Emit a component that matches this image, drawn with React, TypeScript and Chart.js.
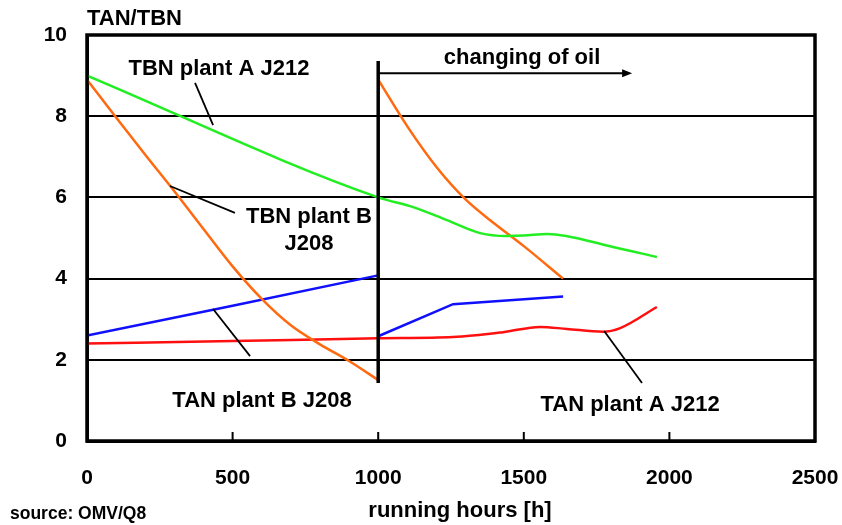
import React, { useEffect, useRef } from "react";
import { Chart, registerables } from "chart.js";
Chart.register(...registerables);

// TBN plant A J212 (green)
const tbnA_h = [0, 1000, 1120, 1236, 1350, 1440, 1500, 1580, 1806, 1957];
const tbnA_v = [9.0, 6.0, 5.76, 5.44, 5.12, 5.05, 5.06, 5.1, 4.78, 4.53];

// TBN plant B J208 (orange), first oil fill and after changing
const tbnB1_h = [0, 100, 200, 300, 400, 500, 600, 700, 800, 900, 1000];
const tbnB1_v = [8.9, 7.97, 7.05, 6.15, 5.22, 4.3, 3.5, 2.85, 2.38, 1.97, 1.5];
const tbnB2_h = [1000, 1100, 1200, 1300, 1400, 1500, 1635];
const tbnB2_v = [8.9, 7.75, 6.75, 5.95, 5.35, 4.8, 4.0];

// TAN plant B J208 (blue)
const tanB1_h = [0, 500, 1000];
const tanB1_v = [2.6, 3.33, 4.08];
const tanB2_h = [1000, 1257, 1635];
const tanB2_v = [2.58, 3.37, 3.56];

// TAN plant A J212 (red)
const tanA_h = [0, 500, 1000, 1257, 1429, 1556, 1648, 1772, 1831, 1957];
const tanA_v = [2.4, 2.46, 2.53, 2.56, 2.68, 2.81, 2.76, 2.69, 2.78, 3.3];

const xTicks = [0, 500, 1000, 1500, 2000, 2500];
const yTicks = [0, 2, 4, 6, 8, 10];

const FONT = "'Liberation Sans', Arial, sans-serif";

export default function App() {
  const ref = useRef<HTMLCanvasElement>(null);
  useEffect(() => {
    document.body.style.margin = "0";
    const pts = (h: number[], v: number[]) => h.map((x, i) => ({ x, y: v[i] }));

    const annot = {
      id: "annot",
      afterDatasetsDraw(chart: any) {
        const { ctx, chartArea: a, scales } = chart;
        const X = (v: number) => scales.x.getPixelForValue(v);
        const Y = (v: number) => scales.y.getPixelForValue(v);
        ctx.save();
        ctx.strokeStyle = "#000";
        ctx.fillStyle = "#000";
        ctx.lineCap = "butt";
        // vertical oil change line
        ctx.lineWidth = 3.5;
        ctx.beginPath();
        ctx.moveTo(X(1000), Y(9.36));
        ctx.lineTo(X(1000), Y(1.43));
        ctx.stroke();
        // arrow
        ctx.lineWidth = 2;
        ctx.beginPath();
        ctx.moveTo(X(1000), Y(9.06));
        ctx.lineTo(X(1872) - 6, Y(9.06));
        ctx.stroke();
        ctx.beginPath();
        ctx.moveTo(X(1872), Y(9.06));
        ctx.lineTo(X(1872) - 10, Y(9.06) - 4);
        ctx.lineTo(X(1872) - 10, Y(9.06) + 4);
        ctx.closePath();
        ctx.fill();
        // leader lines
        ctx.lineWidth = 1.8;
        const leader = (x1: number, y1: number, x2: number, y2: number) => {
          ctx.beginPath();
          ctx.moveTo(X(x1), Y(y1));
          ctx.lineTo(X(x2), Y(y2));
          ctx.stroke();
        };
        leader(371, 8.82, 433, 7.78);
        leader(285, 6.28, 508, 5.62);
        leader(433, 3.25, 560, 2.09);
        leader(1776, 2.71, 1906, 1.43);
        // labels
        ctx.font = `bold 22px ${FONT}`;
        ctx.textAlign = "center";
        ctx.textBaseline = "alphabetic";
        ctx.fillText("TBN plant A J212", X(453), Y(9.01));
        ctx.fillText("TBN plant B", X(762), Y(5.37));
        ctx.fillText("J208", X(762), Y(4.7));
        ctx.fillText("TAN plant B J208", X(601), Y(0.84));
        ctx.fillText("TAN plant A J212", X(1865), Y(0.74));
        ctx.fillText("changing of oil", X(1494), Y(9.29));
        // bottom inner tick marks
        ctx.lineWidth = 2;
        for (const t of [500, 1000, 1500, 2000]) {
          ctx.beginPath();
          ctx.moveTo(X(t), a.bottom);
          ctx.lineTo(X(t), a.bottom - 9);
          ctx.stroke();
        }
        // frame
        ctx.lineWidth = 3.5;
        ctx.strokeRect(a.left, a.top, a.right - a.left, a.bottom - a.top);
        // titles
        ctx.textAlign = "left";
        ctx.fillText("TAN/TBN", a.left, a.top - 10);
        ctx.textAlign = "center";
        ctx.fillText("running hours [h]", 460, 517);
        ctx.font = `bold 17.5px ${FONT}`;
        ctx.textAlign = "left";
        ctx.fillText("source: OMV/Q8", 10, 519);
        ctx.restore();
      },
    };

    const line = (data: any[], color: string, smooth: boolean) => ({
      data,
      borderColor: color,
      borderWidth: 2.5,
      pointRadius: 0,
      fill: false,
      tension: 0,
      cubicInterpolationMode: smooth ? ("monotone" as const) : ("default" as const),
    });

    const tickFont = { family: FONT, size: 21, weight: "bold" as const };

    const chart = new Chart(ref.current!, {
      type: "line",
      data: {
        datasets: [
          line(pts(tbnA_h, tbnA_v), "#22ee22", true),
          line(pts(tbnB1_h, tbnB1_v), "#ff6a10", true),
          line(pts(tbnB2_h, tbnB2_v), "#ff6a10", true),
          line(pts(tanB1_h, tanB1_v), "#1010ff", false),
          line(pts(tanB2_h, tanB2_v), "#1010ff", false),
          line(pts(tanA_h, tanA_v), "#ff1010", true),
        ],
      },
      options: {
        responsive: false,
        animation: false,
        layout: { padding: { top: 35, right: 27, left: 0, bottom: 0 } },
        plugins: { legend: { display: false }, tooltip: { enabled: false } },
        scales: {
          x: {
            type: "linear",
            min: 0,
            max: 2500,
            afterBuildTicks: (s: any) => {
              s.ticks = xTicks.map((v) => ({ value: v }));
            },
            ticks: { font: tickFont, color: "#000", padding: 25, maxRotation: 0, callback: (v: any) => String(v) },
            grid: { display: false, drawTicks: false },
            border: { display: true, color: "#000", width: 3 },
            afterFit: (s: any) => {
              s.height = 84;
              s.paddingLeft = 0;
              s.paddingRight = 0;
            },
          },
          y: {
            min: 0,
            max: 10,
            afterBuildTicks: (s: any) => {
              s.ticks = yTicks.map((v) => ({ value: v }));
            },
            ticks: { font: tickFont, color: "#000", padding: 20, callback: (v: any) => String(v) },
            grid: { color: "#000", lineWidth: 2, drawTicks: false },
            border: { display: true, color: "#000", width: 3 },
            afterFit: (s: any) => {
              s.width = 87;
              s.paddingTop = 0;
              s.paddingBottom = 0;
            },
          },
        },
      },
      plugins: [annot],
    });
    return () => chart.destroy();
  }, []);
  return <canvas ref={ref} width={842} height={525} style={{ display: "block" }} />;
}
